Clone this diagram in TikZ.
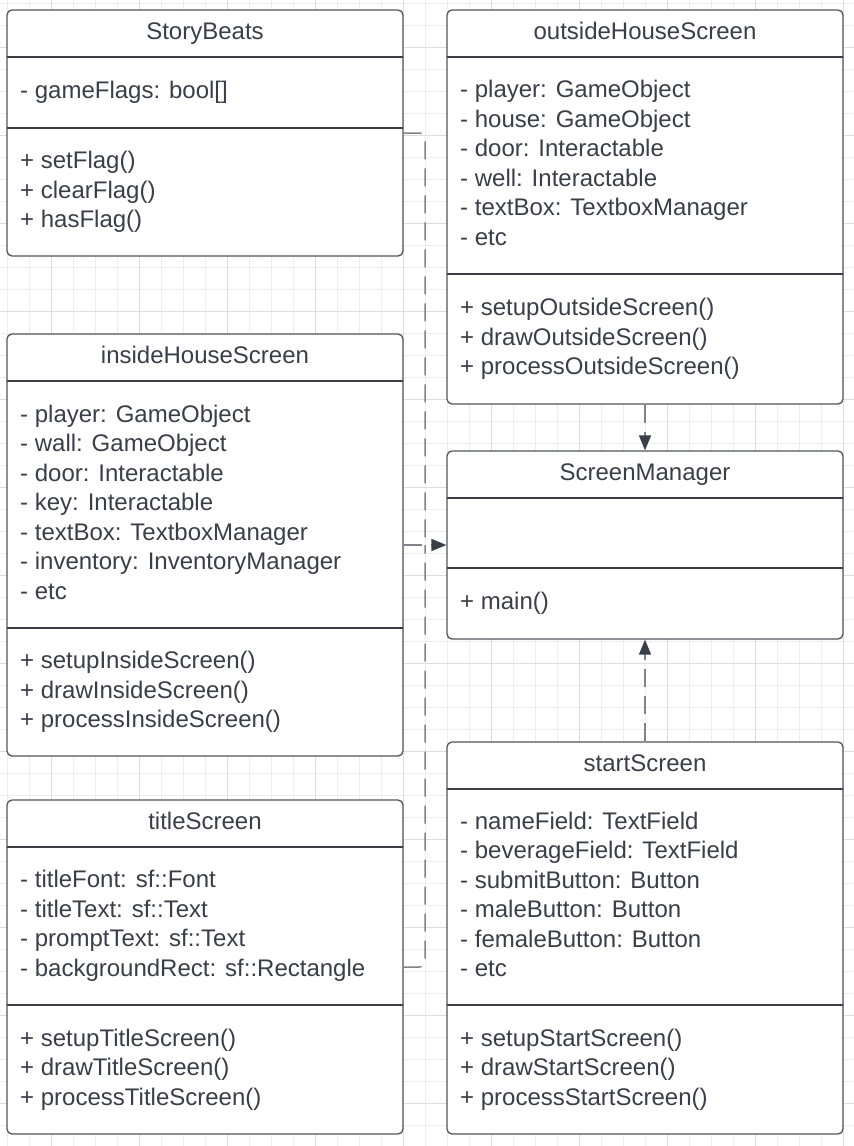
\documentclass[tikz,border=0pt]{standalone}
\usepackage{fontspec}
\setmainfont{Liberation Sans}
\usetikzlibrary{arrows.meta,calc,fit}
\definecolor{ink}{RGB}{58,63,71}
\definecolor{edge}{RGB}{80,85,92}
\definecolor{gridminor}{RGB}{237,237,237}
\definecolor{gridmajor}{RGB}{221,221,221}
\definecolor{dashgrey}{RGB}{128,132,138}
\tikzset{>={Triangle[length=15pt,width=12pt,color=ink]},
  classbox/.style={draw=edge,line width=1.3pt,rounded corners=5pt,inner sep=0pt,fill=white},
  sepline/.style={draw=ink,line width=1.2pt},
  titletxt/.style={inner sep=0pt,text height=17pt,text depth=0pt,text=ink,font=\fontsize{24}{29}\selectfont},
  itemtxt/.style={titletxt,anchor=west},
  dep/.style={draw=dashgrey,line width=1.5pt,dash pattern=on 18pt off 9pt,rounded corners=6pt}}
\newcommand\umlclass[6]{%
  \coordinate (#1-nw) at (#2,#3);
  \coordinate (#1-se) at (#2+396,#4);
  \node[classbox,fit=(#1-nw)(#1-se)] (#1) {};
  \node[titletxt] at (#2+198,#3+21) {#6};
  \draw[sepline] (#2,#3+47) -- (#2+396,#3+47) (#2,#5) -- (#2+396,#5);}
\newcommand\umlitems[4]{%
  \foreach \itm [count=\k] in {#4} {\xdef\nitems{\k}}
  \foreach \itm [count=\k] in {#4}
    \node[itemtxt] at (#1+13,{(#2+#3)/2+(\k-(\nitems+1)/2)*29.5-2.5}) {\itm};}
\begin{document}
\begin{tikzpicture}[x=1pt,y=-1pt]
\useasboundingbox (0,0) rectangle (854,1146);
\fill[white] (0,0) rectangle (854,1146);
\foreach \gx in {7,29,...,843} \draw[gridminor,line width=1pt] (\gx,0) -- (\gx,1146);
\foreach \gy in {3,25,...,1125} \draw[gridminor,line width=1pt] (0,\gy) -- (854,\gy);
\foreach \gx in {51,139,...,843} \draw[gridmajor,line width=1pt] (\gx,0) -- (\gx,1146);
\foreach \gy in {47,135,...,1103} \draw[gridmajor,line width=1pt] (0,\gy) -- (854,\gy);

\umlclass{story}{7}{10}{256}{128}{StoryBeats}
\umlitems{7}{57}{128}{- gameFlags: bool[]}
\umlitems{7}{128}{256}{+ setFlag(), + clearFlag(), + hasFlag()}

\umlclass{outside}{447}{10}{404}{274}{outsideHouseScreen}
\umlitems{447}{57}{274}{- player: GameObject, - house: GameObject, - door: Interactable, - well: Interactable, - textBox: TextboxManager, - etc}
\umlitems{447}{274}{404}{+ setupOutsideScreen(), + drawOutsideScreen(), + processOutsideScreen()}

\umlclass{inside}{7}{334}{756}{628}{insideHouseScreen}
\umlitems{7}{381}{628}{- player: GameObject, - wall: GameObject, - door: Interactable, - key: Interactable, - textBox: TextboxManager, - inventory: InventoryManager, - etc}
\umlitems{7}{628}{756}{+ setupInsideScreen(), + drawInsideScreen(), + processInsideScreen()}

\umlclass{manager}{447}{451}{639}{568}{ScreenManager}
\umlitems{447}{568}{639}{+ main()}

\umlclass{titlescr}{7}{800}{1134}{1005}{titleScreen}
\umlitems{7}{847}{1005}{- titleFont: sf::Font, - titleText: sf::Text, - promptText: sf::Text, - backgroundRect: sf::Rectangle}
\umlitems{7}{1005}{1134}{+ setupTitleScreen(), + drawTitleScreen(), + processTitleScreen()}

\umlclass{start}{447}{742}{1134}{1005}{startScreen}
\umlitems{447}{789}{1005}{- nameField: TextField, - beverageField: TextField, - submitButton: Button, - maleButton: Button, - femaleButton: Button, - etc}
\umlitems{447}{1005}{1134}{+ setupStartScreen(), + drawStartScreen(), + processStartScreen()}

\coordinate (junction) at ($(inside.east)!.5!(manager.west)$);
\draw[dep] (story.east) -| (junction);
\draw[dep] (titlescr.east) -| (junction);
\draw[dep,->] (inside.east) -- (manager.west);
\draw[dep,->] (outside.south) -- (manager.north);
\draw[dep,->] (start.north) -- (manager.south);
\end{tikzpicture}
\end{document}
